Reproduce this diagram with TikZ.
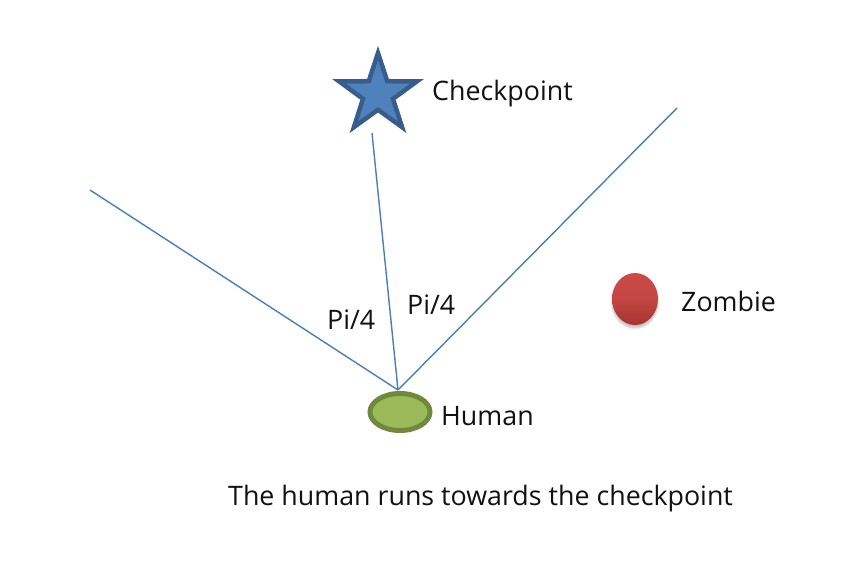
\documentclass[tikz,border=0pt]{standalone}
\usepackage{fontspec}
\setmainfont{Open Sans}
\usetikzlibrary{shapes.geometric,shadows.blur}
\definecolor{starfill}{HTML}{4F81BD}
\definecolor{starline}{HTML}{385D8A}
\definecolor{rayline}{HTML}{4A7EBB}
\definecolor{humanfill}{HTML}{9BBB59}
\definecolor{humanline}{HTML}{71893F}
\definecolor{zombietop}{HTML}{CC4A46}
\definecolor{zombiebot}{HTML}{A8332F}
\definecolor{txt}{HTML}{111111}
\tikzset{
  lbl/.style={anchor=base west, inner sep=0pt, text=txt, font=\fontsize{26.8}{32}\selectfont},
  ray/.style={draw=rayline, line width=1.4pt},
}
\begin{document}
\begin{tikzpicture}[x=1pt,y=-1pt]
\useasboundingbox (0,0) rectangle (847,561);
\node[star, star points=5, star point ratio=2.6, minimum size=82pt, inner sep=0pt,
      fill=starfill, draw=starline, line width=4.5pt, line join=miter] (cp) at (378,94) {};
\node[ellipse, minimum width=60pt, minimum height=37pt, inner sep=0pt,
      fill=humanfill, draw=humanline, line width=5pt] (human) at (400,412) {};
\node[ellipse, minimum width=46pt, minimum height=52pt, inner sep=0pt,
      top color=zombietop, bottom color=zombiebot, middle color=zombietop!95!black,
      blur shadow={shadow xshift=0pt, shadow yshift=-3pt, shadow blur steps=6, shadow opacity=25}] (zombie) at (635,299) {};
\coordinate (top) at (398,390);
\coordinate (leftend) at (90,190);
\coordinate (midend) at (372,133);
\coordinate (rightend) at (677,108);
\draw[ray] (top) -- (leftend);
\draw[ray] (top) -- (midend);
\draw[ray] (top) -- (rightend);
\node[lbl] (cplabel) at (432,101) {Checkpoint};
\node[lbl] (humanlabel) at (441,426) {Human};
\node[lbl] (zombielabel) at (681,312) {Zombie};
\node[lbl] (pileft) at (327,330) {Pi/4};
\node[lbl] (piright) at (407,315) {Pi/4};
\node[lbl] (caption) at (228,506) {The human runs towards the checkpoint};
\end{tikzpicture}
\end{document}
